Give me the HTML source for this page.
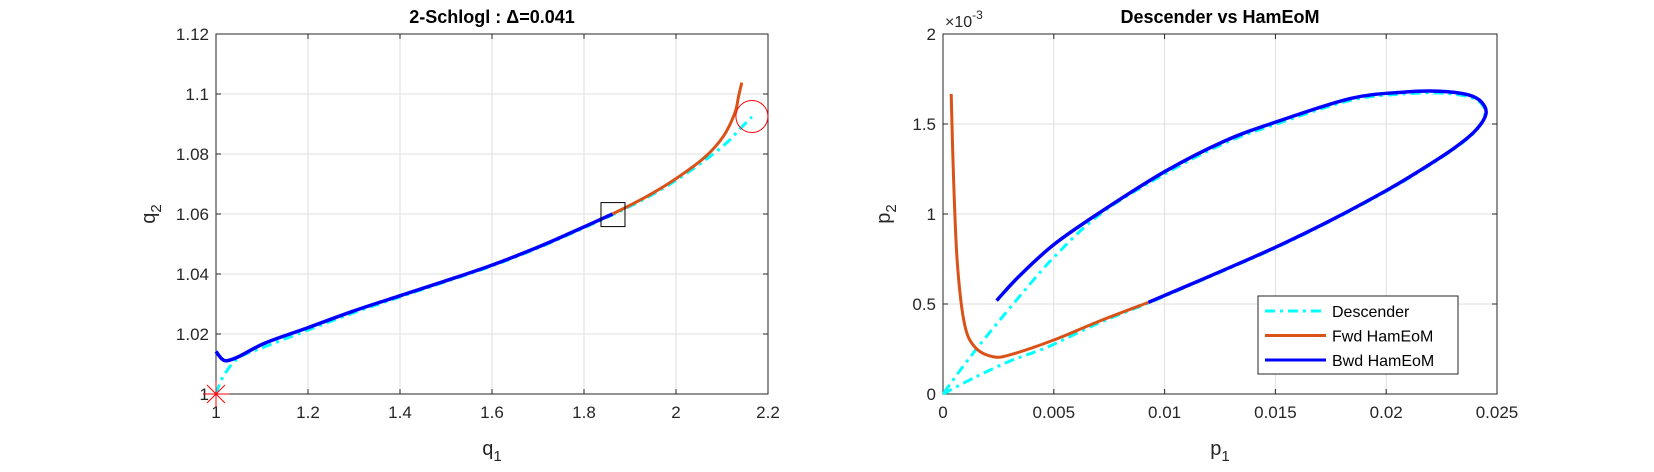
<!DOCTYPE html>
<html><head><meta charset="utf-8"><style>
body{margin:0;background:#fff;}
svg{display:block;font-family:"Liberation Sans",Arial,sans-serif;}
</style></head><body>
<svg id="fig" width="1654" height="472" viewBox="0 0 1654 472">
<rect width="1654" height="472" fill="#fff"/>
<g id="L"></g>
<g id="R"></g>
<text x="492" y="23" text-anchor="middle" font-size="18" font-weight="bold" fill="#000">2-Schlogl : Δ=0.041</text>
<text x="1220" y="23" text-anchor="middle" font-size="18" font-weight="bold" fill="#000">Descender vs HamEoM</text>
<g font-size="20" fill="#262626">
<text x="492" y="455" text-anchor="middle">q<tspan font-size="15" dy="6">1</tspan></text>
<text transform="translate(155,214) rotate(-90)" text-anchor="middle">q<tspan font-size="15" dy="6">2</tspan></text>
<text x="1220" y="455" text-anchor="middle">p<tspan font-size="15" dy="6">1</tspan></text>
<text transform="translate(890,214) rotate(-90)" text-anchor="middle">p<tspan font-size="15" dy="6">2</tspan></text>
</g>
<text x="945" y="27" font-size="16" fill="#262626">×10<tspan font-size="12" dy="-8">-3</tspan></text>
</svg>
<script>
// Left chart data
const qTicksX=[1,1.2,1.4,1.6,1.8,2,2.2];
const qTicksY=[1,1.02,1.04,1.06,1.08,1.1,1.12];
const descQ1=[1,1.016,1.049,1.107,1.198,1.298,1.397,1.497,1.597,1.696,1.771,1.862,1.937,2.0,2.061,2.11,2.14,2.165];
const descQ2=[1,1.0059,1.012,1.0158,1.0212,1.027,1.0322,1.0373,1.0425,1.0484,1.0534,1.0597,1.0655,1.0712,1.0777,1.0837,1.0885,1.0924];
const bwdQ1=[1,1.012,1.024,1.05,1.107,1.198,1.298,1.397,1.497,1.597,1.696,1.771,1.862];
const bwdQ2=[1.0142,1.0118,1.0111,1.0125,1.017,1.022,1.0276,1.0326,1.0376,1.0428,1.0487,1.0537,1.06];
const fwdQ1=[1.862,1.937,2.0,2.061,2.103,2.128,2.136,2.143];
const fwdQ2=[1.06,1.0659,1.0718,1.0787,1.0859,1.0937,1.0992,1.1038];
const startPt=[1,1];
const endPt=[2.165,1.0925];
const switchPt=[1.863,1.0598];
// Right chart data (p2 in units of 1e-3)
const pTicksX=[0,0.005,0.01,0.015,0.02,0.025];
const pTicksXLab=["0","0.005","0.01","0.015","0.02","0.025"];
const pTicksY=[0,0.5,1,1.5,2];
const descP1=[0,0.00145,0.00306,0.00468,0.0071,0.00927,0.011,0.0127,0.015,0.0175,0.02,0.0215,0.023,0.024,0.02445,0.0243,0.0237,0.0224,0.0208,0.0184,0.015,0.0127,0.01,0.0071,0.005,0.00355,0.00242,0.00145,0.00065,0];
const descP2=[0,0.093,0.185,0.259,0.398,0.505,0.597,0.687,0.811,0.961,1.126,1.236,1.356,1.456,1.55,1.612,1.652,1.672,1.667,1.632,1.498,1.393,1.222,1.0,0.759,0.556,0.389,0.241,0.111,0];
const fwdP1=[0.00037,0.00048,0.00065,0.00097,0.00145,0.00226,0.00306,0.005,0.0071,0.00927];
const fwdP2=[1.667,1.185,0.722,0.389,0.259,0.207,0.219,0.3,0.407,0.509];
const bwdP1=[0.00927,0.011,0.0127,0.015,0.0175,0.02,0.0215,0.023,0.024,0.0245,0.0243,0.0237,0.0224,0.0208,0.0184,0.015,0.0127,0.01,0.0071,0.005,0.0034,0.00242];
const bwdP2=[0.509,0.6,0.69,0.815,0.965,1.13,1.24,1.36,1.46,1.555,1.622,1.662,1.682,1.677,1.642,1.51,1.405,1.235,1.01,0.83,0.65,0.519];
const legendLabels=["Descender","Fwd HamEoM","Bwd HamEoM"];

const NS="http://www.w3.org/2000/svg";
function mk(parent,tag,attrs,text){const e=document.createElementNS(NS,tag);for(const k in attrs)e.setAttribute(k,attrs[k]);if(text!==undefined)e.textContent=text;parent.appendChild(e);return e;}
function smooth(pts){let d="M"+pts[0][0].toFixed(2)+","+pts[0][1].toFixed(2);for(let i=0;i<pts.length-1;i++){const p0=pts[Math.max(0,i-1)],p1=pts[i],p2=pts[i+1],p3=pts[Math.min(pts.length-1,i+2)];const c1=[p1[0]+(p2[0]-p0[0])/6,p1[1]+(p2[1]-p0[1])/6],c2=[p2[0]-(p3[0]-p1[0])/6,p2[1]-(p3[1]-p1[1])/6];d+="C"+c1.map(v=>v.toFixed(2))+" "+c2.map(v=>v.toFixed(2))+" "+p2[0].toFixed(2)+","+p2[1].toFixed(2);}return d;}

function axes(g,x0,x1,y0,y1,xmin,xmax,ymin,ymax,xt,xl,yt,yl){
  const sx=v=>x0+(v-xmin)/(xmax-xmin)*(x1-x0), sy=v=>y1-(v-ymin)/(ymax-ymin)*(y1-y0);
  const grid=mk(g,"g",{});
  
  
  xt.forEach(v=>mk(grid,"line",{x1:sx(v),x2:sx(v),y1:y0,y2:y1,stroke:"#dfdfdf","stroke-width":1}));
  yt.forEach(v=>mk(grid,"line",{x1:x0,x2:x1,y1:sy(v),y2:sy(v),stroke:"#dfdfdf","stroke-width":1}));
  const ax=mk(g,"g",{});
  
  
  mk(ax,"rect",{x:x0,y:y0,width:x1-x0,height:y1-y0,fill:"none",stroke:"#262626","stroke-width":1});
  xt.forEach((v,i)=>{const x=sx(v);mk(ax,"line",{x1:x,x2:x,y1:y1,y2:y1-5,stroke:"#262626"});mk(ax,"line",{x1:x,x2:x,y1:y0,y2:y0+5,stroke:"#262626"});
    const t=mk(ax,"text",{x:x,y:y1+24,"text-anchor":"middle","font-size":17,fill:"#262626"},xl[i]);
    
    });
  yt.forEach((v,i)=>{const y=sy(v);mk(ax,"line",{x1:x0,x2:x0+5,y1:y,y2:y,stroke:"#262626"});mk(ax,"line",{x1:x1,x2:x1-5,y1:y,y2:y,stroke:"#262626"});
    const t=mk(ax,"text",{x:x0-7,y:y+6,"text-anchor":"end","font-size":17,fill:"#262626"},yl[i]);
    
    });
  return [sx,sy];
}
function series(g,xs,ys,sx,sy,color,w,dash,name){
  const p=mk(g,"path",{d:smooth(xs.map((v,i)=>[sx(v),sy(ys[i])])),fill:"none",stroke:color,"stroke-width":w,"stroke-linejoin":"round"});
  if(dash)p.setAttribute("stroke-dasharray",dash);
  
  
}
// LEFT
const L=document.getElementById("L");
const [lx,ly]=axes(L,216,768,34,394,1,2.2,1,1.12,qTicksX,qTicksX.map(String),qTicksY,qTicksY.map(String));
series(L,descQ1,descQ2,lx,ly,"#00ffff",3,"10,5,3,5","descender-line-left");
series(L,bwdQ1,bwdQ2,lx,ly,"#0000ff",3.5,null,"bwd-hameom-line-left");
series(L,fwdQ1,fwdQ2,lx,ly,"#d95319",3,null,"fwd-hameom-line-left");
{const c=mk(L,"circle",{cx:lx(endPt[0]),cy:ly(endPt[1]),r:16,fill:"none",stroke:"#ff0000","stroke-width":1});


const s=mk(L,"rect",{x:lx(switchPt[0])-12,y:ly(switchPt[1])-12,width:24,height:24,fill:"none",stroke:"#000","stroke-width":1});


const a=mk(L,"g",{stroke:"#ff0000","stroke-width":1});


const cx=lx(startPt[0]),cy=ly(startPt[1]);
mk(a,"line",{x1:cx-13,x2:cx+13,y1:cy,y2:cy});mk(a,"line",{x1:cx,x2:cx,y1:cy-13,y2:cy+13});
mk(a,"line",{x1:cx-9,x2:cx+9,y1:cy-9,y2:cy+9});mk(a,"line",{x1:cx-9,x2:cx+9,y1:cy+9,y2:cy-9});}
// RIGHT
const R=document.getElementById("R");
const [rx,ry]=axes(R,943,1497,34,394,0,0.025,0,2,pTicksX,pTicksXLab,pTicksY,pTicksY.map(String));
series(R,descP1,descP2,rx,ry,"#00ffff",3,"10,5,3,5","descender-line-right");
series(R,fwdP1,fwdP2,rx,ry,"#d95319",3,null,"fwd-hameom-line-right");
series(R,bwdP1,bwdP2,rx,ry,"#0000ff",3.5,null,"bwd-hameom-line-right");
// legend
const lg=mk(R,"g",{});


mk(lg,"rect",{x:1258,y:296,width:200,height:78,fill:"#fff",stroke:"#262626","stroke-width":1});
const lc=["#00ffff","#d95319","#0000ff"],ld=["10,5,3,5",null,null];
legendLabels.forEach((t,i)=>{const y=311+i*24.5;
  const e=mk(lg,"g",{});
  
  
  const l=mk(e,"line",{x1:1265,x2:1326,y1:y,y2:y,stroke:lc[i],"stroke-width":3});if(ld[i])l.setAttribute("stroke-dasharray",ld[i]);
  mk(e,"text",{x:1332,y:y+6,"font-size":16,fill:"#000"},t);});
</script>
</body></html>
